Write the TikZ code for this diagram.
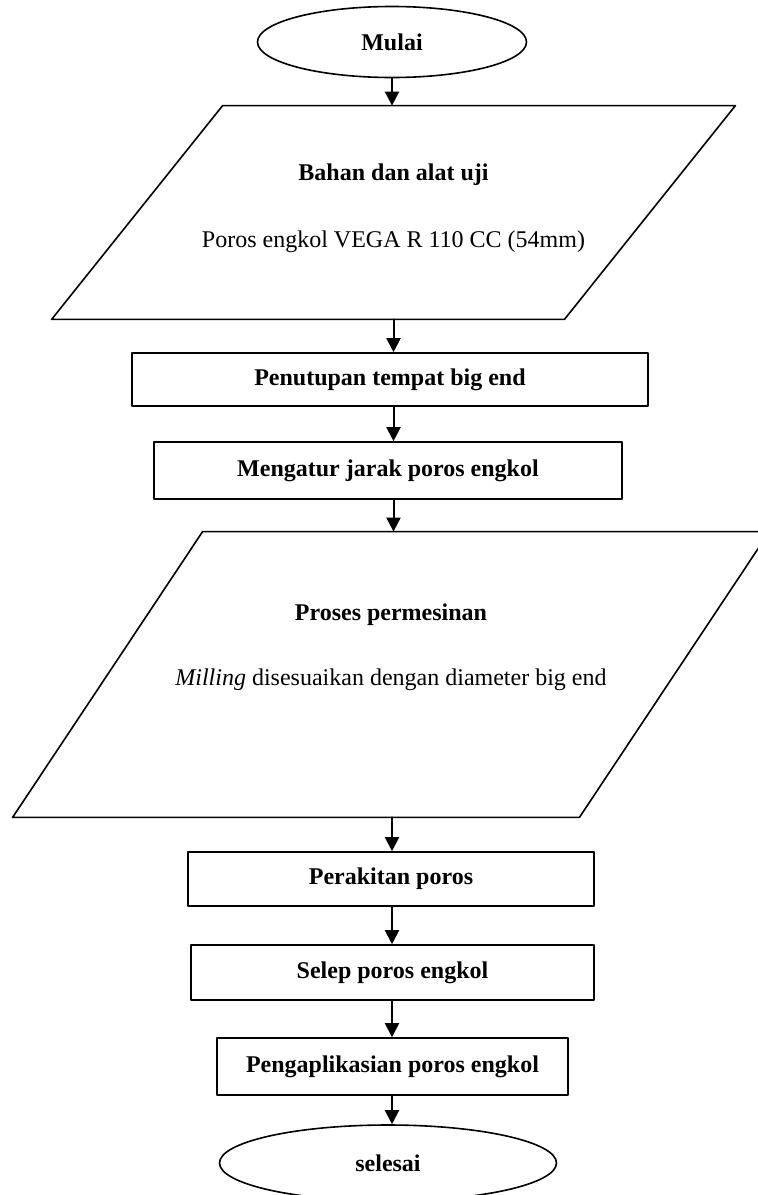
\documentclass[tikz,border=0pt]{standalone}
\usepackage{fontspec}
\setmainfont{Liberation Serif}
\usetikzlibrary{arrows.meta,positioning,shapes.geometric}

\tikzset{
  startstop/.style={draw,ellipse,line width=.8pt,inner sep=0pt,font=\fontsize{12pt}{14.5pt}\selectfont\bfseries},
  procbox/.style={draw,rectangle,line width=.8pt,inner sep=0pt,font=\fontsize{12pt}{14.5pt}\selectfont\bfseries},
  iobox/.style={rectangle,inner sep=0pt,align=center,font=\fontsize{12pt}{14.5pt}\selectfont},
  ioline/.style={draw,line width=.8pt},
  flow/.style={line width=1pt,-{Triangle[length=7pt,width=7pt]}}
}

\begin{document}
\begin{tikzpicture}[x=0.5pt,y=-0.5pt,line cap=round,line join=round]
\path[use as bounding box] (0,0) rectangle (757,1195);
\node[startstop,minimum width=134.5pt,minimum height=35.5pt] (mulai) at (392,42) {Mulai};
\node[iobox,minimum width=256pt,minimum height=106.5pt] (bahan) at (393.5,212.5) {\textbf{Bahan dan alat uji}\\[19pt] Poros engkol VEGA R 110 CC (54mm)\\[-12pt]\strut};
\draw[ioline] ([xshift=42.75pt]bahan.north west) -- ([xshift=42.75pt]bahan.north east) -- ([xshift=-42.75pt]bahan.south east) -- ([xshift=-42.75pt]bahan.south west) -- cycle;
\node[procbox,minimum width=258pt,minimum height=26.5pt] (tutup) at (390,379.5) {Penutupan tempat big end};
\node[procbox,minimum width=234pt,minimum height=28.5pt] (jarak) at (388,470.5) {Mengatur jarak poros engkol};
\node[iobox,minimum width=283pt,minimum height=142.5pt] (mesin) at (391,674.5) {\textbf{Proses permesinan}\\[18pt] \textit{Milling} disesuaikan dengan diameter big end\\[10.5pt]\strut};
\draw[ioline] ([xshift=47.5pt]mesin.north west) -- ([xshift=47.5pt]mesin.north east) -- ([xshift=-47.5pt]mesin.south east) -- ([xshift=-47.5pt]mesin.south west) -- cycle;
\node[procbox,minimum width=203pt,minimum height=27pt] (rakit) at (391,879) {Perakitan poros};
\node[procbox,minimum width=201.5pt,minimum height=27.5pt] (selep) at (392.5,972.5) {Selep poros engkol};
\node[procbox,minimum width=175.5pt,minimum height=28.5pt] (aplikasi) at (392.5,1066.5) {Pengaplikasian poros engkol};
\node[startstop,minimum width=168.5pt,minimum height=38pt] (selesai) at (388,1163) {selesai};

% alur
\draw[flow] (mulai.south) -- (mulai.south |- bahan.north);
\draw[flow] (bahan.south) -- (bahan.south |- tutup.north);
\draw[flow] (bahan.south |- tutup.south) -- (bahan.south |- jarak.north);
\draw[flow] (bahan.south |- jarak.south) -- (bahan.south |- mesin.north);
\draw[flow] (mulai.south |- mesin.south) -- (mulai.south |- rakit.north);
\draw[flow] (mulai.south |- rakit.south) -- (mulai.south |- selep.north);
\draw[flow] (mulai.south |- selep.south) -- (mulai.south |- aplikasi.north);
\draw[flow] (mulai.south |- aplikasi.south) -- (mulai.south |- selesai.north);
\end{tikzpicture}
\end{document}
